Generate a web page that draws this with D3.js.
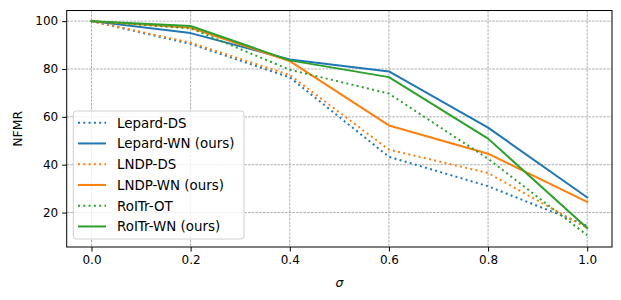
<!DOCTYPE html>
<html><head><meta charset="utf-8">
<script src="https://cdn.jsdelivr.net/npm/d3@7"></script>
<style>body{margin:0;background:#fff}svg{display:block;font-family:"DejaVu Sans",sans-serif}</style>
</head><body><svg id="c" width="621" height="300"></svg>
<script>
const sigmas = [0.0, 0.2, 0.4, 0.6, 0.8, 1.0];
const seriesNames = ["Lepard-DS", "Lepard-WN (ours)", "LNDP-DS", "LNDP-WN (ours)", "RoITr-OT", "RoITr-WN (ours)"];
const lepardDS = [100, 90.5, 76.5, 43.3, 31, 14.5];
const lepardWN = [100, 95, 84, 79, 55.5, 26.3];
const lndpDS = [100, 91, 77.5, 46.3, 36.5, 13.5];
const lndpWN = [100, 97.2, 83.3, 56.4, 44.6, 24.4];
const roitrOT = [100, 97, 79.7, 69.7, 42.5, 10.5];
const roitrWN = [100, 98, 83.6, 76.6, 50.9, 13.5];
const xTicks = [0.0, 0.2, 0.4, 0.6, 0.8, 1.0];
const yTicks = [20, 40, 60, 80, 100];
const colors = ["#1f77b4", "#1f77b4", "#ff7f0e", "#ff7f0e", "#2ca02c", "#2ca02c"];
const dotted = [true, false, true, false, true, false];
const allValues = [lepardDS, lepardWN, lndpDS, lndpWN, roitrOT, roitrWN];

const svg = d3.select("#c");
const L = 66.7, R = 612, T = 10.5, B = 247;
const x = d3.scaleLinear().domain([-0.05, 1.05]).range([L, R]);
const y = d3.scaleLinear().domain([5.6, 104.45]).range([B, T]);

// grid
const g = svg.append("g");
g.selectAll(".gx").data(xTicks).join("line")
  .attr("x1", d => x(d)).attr("x2", d => x(d)).attr("y1", T).attr("y2", B)
  .attr("stroke", "#8c8c8c").attr("stroke-width", 0.7).attr("stroke-dasharray", "2.6,1.1");
g.selectAll(".gy").data(yTicks).join("line")
  .attr("x1", L).attr("x2", R).attr("y1", d => y(d)).attr("y2", d => y(d))
  .attr("stroke", "#8c8c8c").attr("stroke-width", 0.7).attr("stroke-dasharray", "2.6,1.1");

// lines
const line = d3.line().x((d, i) => x(sigmas[i])).y(d => y(d));
allValues.forEach((vals, k) => {
  svg.append("path").datum(vals).attr("d", line)
    .attr("fill", "none").attr("stroke", colors[k]).attr("stroke-width", 2)
    .attr("stroke-linejoin", "round")
    .attr("stroke-linecap", dotted[k] ? "butt" : "square")
    .attr("stroke-dasharray", dotted[k] ? "2,3.3" : null);
});

// axes
const xa = svg.append("g").attr("transform", `translate(0,${B})`)
  .call(d3.axisBottom(x).tickValues(xTicks).tickFormat(d3.format(".1f")).tickSizeOuter(0).tickSize(4.5).tickPadding(4));
const ya = svg.append("g").attr("transform", `translate(${L},0)`)
  .call(d3.axisLeft(y).tickValues(yTicks).tickSizeOuter(0).tickSize(4.5).tickPadding(4));
[xa, ya].forEach(a => {
  a.select(".domain").remove();
  a.selectAll("text").attr("font-family", "DejaVu Sans").attr("font-size", 12).attr("fill", "#000");
  a.selectAll("line").attr("stroke", "#000").attr("stroke-width", 1);
});
svg.append("rect").attr("x", L).attr("y", T).attr("width", R - L).attr("height", B - T)
  .attr("fill", "none").attr("stroke", "#000").attr("stroke-width", 1);

svg.append("text").attr("x", (L + R) / 2).attr("y", 287).attr("text-anchor", "middle")
  .attr("font-size", 12.5).attr("font-style", "italic").text("σ");
svg.append("text").attr("transform", `translate(22,${(T + B) / 2}) rotate(-90)`)
  .attr("text-anchor", "middle").attr("font-size", 12.5).text("NFMR");

// legend
const lg = svg.append("g");
lg.append("rect").attr("x", 73.3).attr("y", 111).attr("width", 170.7).attr("height", 128).attr("rx", 3)
  .attr("fill", "#fff").attr("fill-opacity", 0.8).attr("stroke", "#d0d0d0").attr("stroke-width", 1);
seriesNames.forEach((n, k) => {
  const yy = 122.7 + k * 20.75;
  lg.append("line").attr("x1", 78).attr("x2", 106).attr("y1", yy).attr("y2", yy)
    .attr("stroke", colors[k]).attr("stroke-width", 2)
    .attr("stroke-dasharray", dotted[k] ? "2,3.3" : null);
  lg.append("text").attr("x", 117).attr("y", yy).attr("dy", "0.36em")
    .attr("font-size", 13.4).text(n);
});
</script></body></html>
